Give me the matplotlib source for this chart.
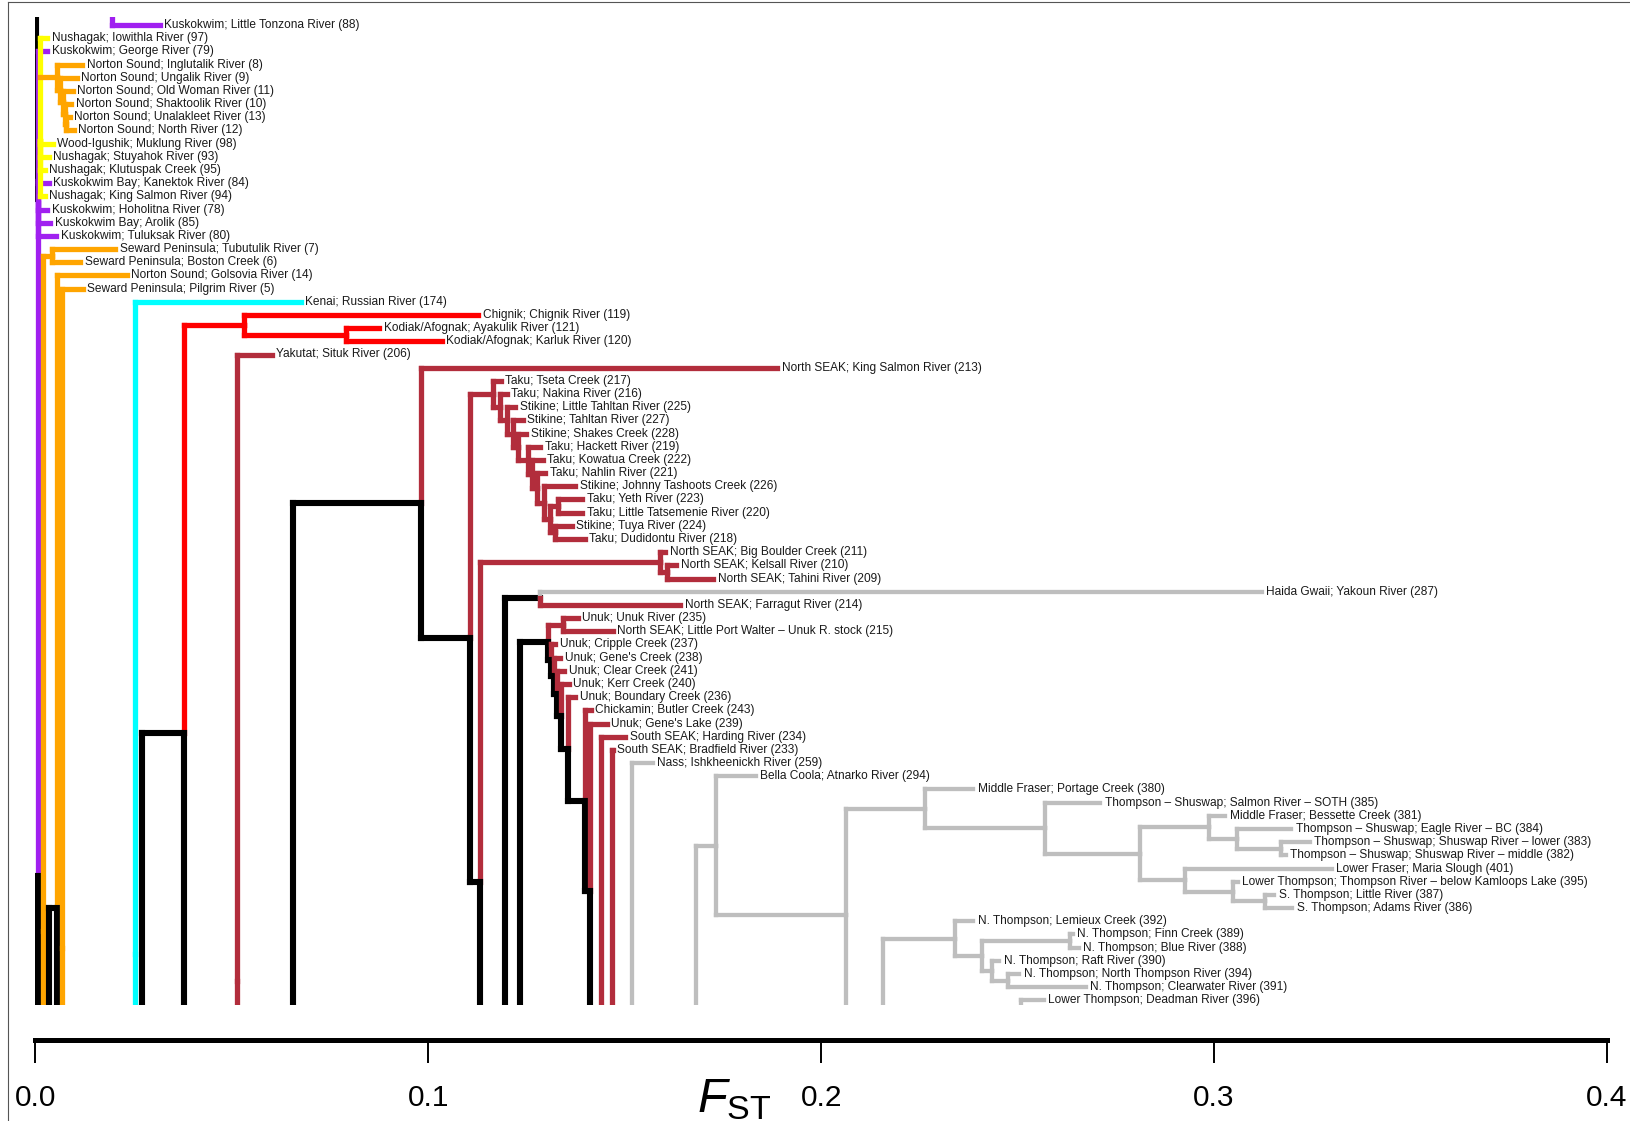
import matplotlib
matplotlib.use('Agg')
import matplotlib.pyplot as plt
from matplotlib.lines import Line2D
from matplotlib import font_manager

# ---------------- data ----------------
PALETTE = {'P': '#A020F0', 'Y': '#FFFF00', 'O': '#FFA500', 'C': '#00FFFF',
           'R': '#FF0000', 'B': '#B22D3C', 'G': '#BEBEBE', 'K': '#000000'}

LEAF_LABELS = [
    "Kuskokwim; Little Tonzona River (88)", "Nushagak; Iowithla River (97)",
    "Kuskokwim; George River (79)", "Norton Sound; Inglutalik River (8)",
    "Norton Sound; Ungalik River (9)", "Norton Sound; Old Woman River (11)",
    "Norton Sound; Shaktoolik River (10)", "Norton Sound; Unalakleet River (13)",
    "Norton Sound; North River (12)", "Wood-Igushik; Muklung River (98)",
    "Nushagak; Stuyahok River (93)", "Nushagak; Klutuspak Creek (95)",
    "Kuskokwim Bay; Kanektok River (84)", "Nushagak; King Salmon River (94)",
    "Kuskokwim; Hoholitna River (78)", "Kuskokwim Bay; Arolik (85)",
    "Kuskokwim; Tuluksak River (80)", "Seward Peninsula; Tubutulik River (7)",
    "Seward Peninsula; Boston Creek (6)", "Norton Sound; Golsovia River (14)",
    "Seward Peninsula; Pilgrim River (5)", "Kenai; Russian River (174)",
    "Chignik; Chignik River (119)", "Kodiak/Afognak; Ayakulik River (121)",
    "Kodiak/Afognak; Karluk River (120)", "Yakutat; Situk River (206)",
    "North SEAK; King Salmon River (213)", "Taku; Tseta Creek (217)",
    "Taku; Nakina River (216)", "Stikine; Little Tahltan River (225)",
    "Stikine; Tahltan River (227)", "Stikine; Shakes Creek (228)",
    "Taku; Hackett River (219)", "Taku; Kowatua Creek (222)",
    "Taku; Nahlin River (221)", "Stikine; Johnny Tashoots Creek (226)",
    "Taku; Yeth River (223)", "Taku; Little Tatsemenie River (220)",
    "Stikine; Tuya River (224)", "Taku; Dudidontu River (218)",
    "North SEAK; Big Boulder Creek (211)", "North SEAK; Kelsall River (210)",
    "North SEAK; Tahini River (209)", "Haida Gwaii; Yakoun River (287)",
    "North SEAK; Farragut River (214)", "Unuk; Unuk River (235)",
    "North SEAK; Little Port Walter \u2013 Unuk R. stock (215)",
    "Unuk; Cripple Creek (237)", "Unuk; Gene's Creek (238)",
    "Unuk; Clear Creek (241)", "Unuk; Kerr Creek (240)",
    "Unuk; Boundary Creek (236)", "Chickamin; Butler Creek (243)",
    "Unuk; Gene's Lake (239)", "South SEAK; Harding River (234)",
    "South SEAK; Bradfield River (233)", "Nass; Ishkheenickh River (259)",
    "Bella Coola; Atnarko River (294)", "Middle Fraser; Portage Creek (380)",
    "Thompson \u2013 Shuswap; Salmon River \u2013 SOTH (385)",
    "Middle Fraser; Bessette Creek (381)",
    "Thompson \u2013 Shuswap; Eagle River \u2013 BC (384)",
    "Thompson \u2013 Shuswap; Shuswap River \u2013 lower (383)",
    "Thompson \u2013 Shuswap; Shuswap River \u2013 middle (382)",
    "Lower Fraser; Maria Slough (401)",
    "Lower Thompson; Thompson River \u2013 below Kamloops Lake (395)",
    "S. Thompson; Little River (387)", "S. Thompson; Adams River (386)",
    "N. Thompson; Lemieux Creek (392)", "N. Thompson; Finn Creek (389)",
    "N. Thompson; Blue River (388)", "N. Thompson; Raft River (390)",
    "N. Thompson; North Thompson River (394)",
    "N. Thompson; Clearwater River (391)", "Lower Thompson; Deadman River (396)",
]

# FST at the tip of each leaf branch
LEAF_TIP = [0.0317, 0.0030, 0.0030, 0.0119, 0.0106, 0.0096, 0.0091, 0.0088,
            0.0098, 0.0045, 0.0034, 0.0024, 0.0034, 0.0024, 0.0030, 0.0038,
            0.0053, 0.0203, 0.0114, 0.0233, 0.0121, 0.0676, 0.1127, 0.0875,
            0.1035, 0.0602, 0.1888, 0.1184, 0.1200, 0.1221, 0.1241, 0.1250,
            0.1285, 0.1292, 0.1298, 0.1374, 0.1392, 0.1392, 0.1366, 0.1399,
            0.1603, 0.1631, 0.1725, 0.3122, 0.1641, 0.1381, 0.1470, 0.1323,
            0.1336, 0.1346, 0.1358, 0.1374, 0.1414, 0.1455, 0.1501, 0.1470,
            0.1572, 0.1834, 0.2387, 0.2710, 0.3028, 0.3196, 0.3244, 0.3183,
            0.3300, 0.3061, 0.3153, 0.3199, 0.2387, 0.2641, 0.2656, 0.2453,
            0.2504, 0.2674, 0.2567]

LEAF_COL = ("PYP" + "OOOOOO" + "YYYPYPPP" + "OOOO" + "C" + "RRR" + "B" + "B"
            + "B" * 13 + "BBB" + "G" + "B" + "B" * 11 + "G" * 19)

# internal nodes: name, FST height, colour of edge to parent, children
# children: int = leaf row, str = node, ('off', row, colour) = branch leaving the frame
NODE_NAMES = []
NODE_X = []
NODE_COL = []
NODE_KIDS = []


def node(name, x, col, kids):
    NODE_NAMES.append(name)
    NODE_X.append(x)
    NODE_COL.append(col)
    NODE_KIDS.append(kids)


# western Alaska
node('L0', 0.0003, 'K', [('off', -4, 'K'), ('off', 13.2, 'K')])
node('Lp', 0.0008, 'K', [('off', 13.5, 'P'), ('off', 115.7, 'K')])
node('Lq', 0.0008, 'P', [2, 12, 14, 15, 16])
node('Ly', 0.0013, 'Y', [1, 9, 10, 11, 13])
node('Lo', 0.0013, 'O', ['o1'])
node('o1', 0.0055, 'O', [3, 'o2'])
node('o2', 0.0063, 'O', [4, 'o3'])
node('o3', 0.0071, 'O', [5, 'o4'])
node('o4', 0.0076, 'O', [6, 'o5'])
node('o5', 0.0079, 'O', [7, 8])
node('ton', 0.0195, 'P', [0, ('off', -4, 'P')])
node('ot', 0.0020, 'O', ['tb', ('off', 120, 'O')])
node('tb', 0.0043, 'O', [17, 18])
node('bb', 0.0036, 'K', ['go', ('off', 120, 'K')])
node('go', 0.0055, 'K', [19, ('off', 115, 'K')])
node('pi', 0.0068, 'O', [20, ('off', 120, 'O')])
node('ke', 0.0254, 'C', [21, ('off', 120, 'C')])
# Chignik / Kodiak
node('r142', 0.0272, 'K', ['r184', ('off', 120, 'K')])
node('r184', 0.0378, 'K', ['r1', ('off', 84.7, 'K')])
node('r1', 0.0531, 'R', [22, 'r2'])
node('r2', 0.0791, 'R', [23, 24])
node('ya', 0.0513, 'B', [25, ('off', 120, 'B')])
# SE Alaska / transboundary
node('n293', 0.0656, 'K', ['n421', ('off', 120, 'K')])
node('n421', 0.0982, 'K', [26, 'n470'])
node('n470', 0.1106, 'K', ['t1', 'n480'])
node('n480', 0.1132, 'K', ['ns1', ('off', 89.25, 'K')])
node('t1', 0.1165, 'B', [27, 'na'])
node('na', 0.1183, 'B', [28, 'lt'])
node('lt', 0.1200, 'B', [29, 'ta'])
node('ta', 0.1215, 'B', [30, 's'])
node('s', 0.1229, 'B', [31, 'h'])
node('h', 0.1255, 'B', [32, 'k'])
node('k', 0.1265, 'B', [33, 'n'])
node('n', 0.1277, 'B', [34, 'j'])
node('j', 0.1295, 'B', [35, 'pyt'])
node('pyt', 0.1310, 'B', ['py', 'pt'])
node('py', 0.1330, 'B', [36, 37])
node('pt', 0.1322, 'B', [38, 39])
node('ns1', 0.1590, 'B', [40, 'ns2'])
node('ns2', 0.1608, 'B', [41, 42])
node('n505', 0.1195, 'K', ['n540', ('off', 120, 'K')])
node('n540', 0.1285, 'K', [43, 44])
node('n520', 0.1234, 'K', ['u0', ('off', 120, 'K')])
node('u0', 0.1305, 'K', ['ul', 'u2'])
node('ul', 0.1343, 'B', [45, 46])
node('u2', 0.1313, 'K', [47, 'u3'])
node('u3', 0.1320, 'K', [48, 'u4'])
node('u4', 0.1328, 'K', [49, 'u5'])
node('u5', 0.1338, 'K', [50, 'u6'])
node('u6', 0.1356, 'K', [51, 'n585'])
node('n585', 0.1399, 'K', [52, 'n590'])
node('n590', 0.1412, 'K', [53, ('off', 78.4, 'K')])
node('hd', 0.1440, 'B', [54, ('off', 120, 'B')])
node('bf', 0.1468, 'B', [55, ('off', 120, 'B')])
node('nas', 0.1519, 'G', [56, ('off', 120, 'G')])
# British Columbia / Fraser
node('n696', 0.1681, 'G', ['n716', ('off', 120, 'G')])
node('n716', 0.1732, 'G', [57, 'n846'])
node('n846', 0.2063, 'G', ['g1', ('off', 75.6, 'G')])
node('g1', 0.2264, 'G', [58, 'g2'])
node('g2', 0.2570, 'G', [59, 'g3'])
node('g3', 0.2812, 'G', ['g4', 'g5'])
node('g4', 0.2987, 'G', [60, 'g6'])
node('g6', 0.3058, 'G', [61, 'g7'])
node('g7', 0.3170, 'G', [62, 63])
node('g5', 0.2926, 'G', [64, 'g8'])
node('g8', 0.3048, 'G', [65, 'g9'])
node('g9', 0.3130, 'G', [66, 67])
node('n883', 0.2157, 'G', ['nt1', ('off', 120, 'G')])
node('nt1', 0.2341, 'G', [68, 'nt2'])
node('nt2', 0.2409, 'G', ['fb', 'nt3'])
node('fb', 0.2633, 'G', [69, 70])
node('nt3', 0.2435, 'G', [71, 'nt4'])
node('nt4', 0.2476, 'G', [72, 73])
node('dm', 0.2509, 'G', [74, ('off', 120, 'G')])

XTICKS = [0.0, 0.1, 0.2, 0.3, 0.4]
XTICK_LABELS = ["0.0", "0.1", "0.2", "0.3", "0.4"]

# ---------------- fonts ----------------
names = {f.name for f in font_manager.fontManager.ttflist}
NARROW = 'Liberation Sans Narrow' in names
FAM = 'Liberation Sans Narrow' if NARROW else 'Liberation Sans'
plt.rcParams['font.family'] = [FAM, 'DejaVu Sans']
plt.rcParams['mathtext.fontset'] = 'custom'
plt.rcParams['mathtext.it'] = 'Liberation Sans:italic'
plt.rcParams['mathtext.rm'] = 'Liberation Sans'

LABEL_SIZE = 10.3 if NARROW else 8.6
TICK_SIZE = 25 if NARROW else 21.5

# ---------------- layout ----------------
W, H = 1630, 1121
fig = plt.figure(figsize=(W / 100, H / 100), dpi=100)
x0_px, x4_px = 35.3, 1607.0
top_px, bot_px = 17.0, 1005.0
ax = fig.add_axes([x0_px / W, 1 - bot_px / H, (x4_px - x0_px) / W, (bot_px - top_px) / H])
row0_px, row_step = 25.0, 13.18
ax.set_xlim(0, 0.4)
ax.set_ylim((bot_px - row0_px) / row_step, (top_px - row0_px) / row_step)

idx = {n: i for i, n in enumerate(NODE_NAMES)}
ycache = {}


def ypos(ref):
    if isinstance(ref, int):
        return float(ref)
    if isinstance(ref, tuple):
        return float(ref[1])
    if ref not in ycache:
        kids = NODE_KIDS[idx[ref]]
        ycache[ref] = sum(ypos(k) for k in kids) / len(kids)
    return ycache[ref]


def xpos(ref):
    if isinstance(ref, int):
        return LEAF_TIP[ref]
    return NODE_X[idx[ref]]


def colr(ref):
    if isinstance(ref, int):
        return LEAF_COL[ref]
    if isinstance(ref, tuple):
        return ref[2]
    return NODE_COL[idx[ref]]


WIDTHS = {'K': 4.4, 'G': 3.1}
for name, x, kids in zip(NODE_NAMES, NODE_X, NODE_KIDS):
    y = ypos(name)
    for kd in kids:
        yk = ypos(kd)
        ck = colr(kd)
        c = PALETTE[ck]
        lw = WIDTHS.get(ck, 3.8)
        ax.add_line(Line2D([x, x], [y, yk], color=c, lw=lw,
                           solid_capstyle='projecting'))
        if not isinstance(kd, tuple):
            ax.add_line(Line2D([x, xpos(kd)], [yk, yk], color=c, lw=lw,
                               solid_capstyle='projecting'))

for i, lab in enumerate(LEAF_LABELS):
    ax.annotate(lab, (LEAF_TIP[i], i), xytext=(3.2, 0), textcoords='offset points',
                ha='left', va='center', fontsize=LABEL_SIZE, color='#1a1a1a',
                annotation_clip=False)

for s in ['top', 'right', 'left']:
    ax.spines[s].set_visible(False)
ax.spines['bottom'].set_position(('outward', 25.2))
ax.spines['bottom'].set_linewidth(3.6)
ax.spines['bottom'].set_bounds(0, 0.4)
ax.set_yticks([])
ax.set_xticks(XTICKS)
ax.set_xticklabels(XTICK_LABELS)
ax.tick_params(axis='x', direction='out', length=16.5, width=1.4, pad=15,
               labelsize=TICK_SIZE, colors='black')

fig.text(734 / W, 1 - 1112 / H, r'$F_{\mathrm{ST}}$', fontsize=35,
         ha='center', va='baseline')

# figure frame
fig.add_artist(Line2D([8 / W, 8 / W], [0, 1 - 2 / H], color='#555555', lw=0.8,
                      transform=fig.transFigure))
fig.add_artist(Line2D([8 / W, 1], [1 - 2 / H, 1 - 2 / H], color='#555555', lw=0.8,
                      transform=fig.transFigure))

fig.savefig('out.png', dpi=100, facecolor='white')
